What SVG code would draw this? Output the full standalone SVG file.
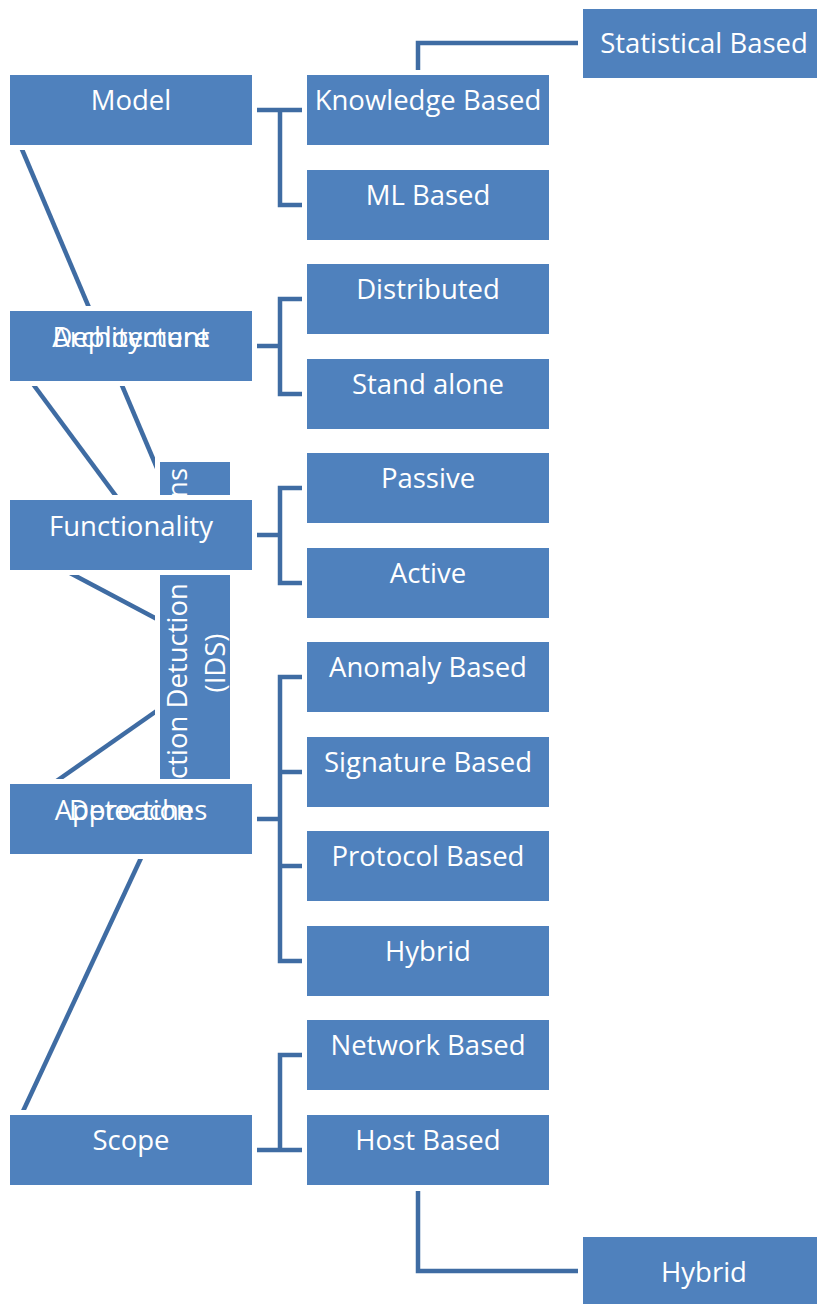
<svg xmlns="http://www.w3.org/2000/svg" width="817" height="1304" viewBox="0 0 817 1304">
  <style>
    .box { fill: #4f81bd; stroke: #ffffff; stroke-width: 10; paint-order: stroke; }
    .lbl { font-family: "Open Sans", "Liberation Sans", sans-serif; font-size: 27.5px; fill: #ffffff; text-anchor: middle; }
    .link { fill: none; stroke: #3f6ca3; stroke-width: 4.5; stroke-linecap: butt; stroke-linejoin: miter; }
  </style>
  <rect width="817" height="1304" fill="#ffffff"/>

  <!-- connectors -->
  <g id="connectors">
    <!-- spokes toward the central IDS box -->
    <line class="link" x1="18" y1="140" x2="168" y2="494"/>
    <line class="link" x1="27" y1="376" x2="130" y2="515"/>
    <line class="link" x1="70" y1="573" x2="172" y2="627"/>
    <line class="link" x1="168" y1="703" x2="48" y2="787"/>
    <line class="link" x1="182" y1="770" x2="18" y2="1122"/>
    <!-- brackets -->
    <path class="link" d="M257 110 H302 M280 108 V205 H302"/>
    <path class="link" d="M257 346 H280 M302 299 H280 V394 H302"/>
    <path class="link" d="M257 535 H280 M302 488 H280 V583 H302"/>
    <path class="link" d="M257 819 H280 M302 677 H280 V961 H302 M280 772 H302 M280 866 H302"/>
    <path class="link" d="M257 1150 H302 M302 1055 H280 V1150"/>
    <!-- outer links -->
    <path class="link" d="M418 70 V43 H578"/>
    <path class="link" d="M418 1191 V1271 H578"/>
  </g>

  <!-- central node -->
  <g id="node-ids">
    <rect class="box" x="160" y="462" width="70" height="388"/>
    <text class="lbl" style="text-anchor:end" transform="translate(187 468) rotate(-90)">ns</text>
    <text class="lbl" style="text-anchor:start" transform="translate(187 779) rotate(-90)">ction Detuction</text>
    <text class="lbl" transform="translate(225 663) rotate(-90)">(IDS)</text>
  </g>

  <!-- category nodes -->
  <g id="node-model">
    <rect class="box" x="10" y="75" width="242" height="70"/>
    <text class="lbl" x="131" y="110">Model</text>
  </g>
  <g id="node-architecture">
    <rect class="box" x="10" y="311" width="242" height="70"/>
    <text class="lbl" x="131" y="347">Architecture</text>
    <text class="lbl" x="131" y="347">Deployment</text>
  </g>
  <g id="node-functionality">
    <rect class="box" x="10" y="500" width="242" height="70"/>
    <text class="lbl" x="131" y="536">Functionality</text>
  </g>
  <g id="node-approaches">
    <rect class="box" x="10" y="784" width="242" height="70"/>
    <text class="lbl" x="131" y="820">Approaches</text>
    <text class="lbl" x="131" y="820">Detection</text>
  </g>
  <g id="node-scope">
    <rect class="box" x="10" y="1115" width="242" height="70"/>
    <text class="lbl" x="131" y="1150">Scope</text>
  </g>

  <!-- leaf nodes -->
  <g id="node-knowledge">
    <rect class="box" x="307" y="75" width="242" height="70"/>
    <text class="lbl" x="428" y="110">Knowledge Based</text>
  </g>
  <g id="node-ml">
    <rect class="box" x="307" y="170" width="242" height="70"/>
    <text class="lbl" x="428" y="205">ML Based</text>
  </g>
  <g id="node-distributed">
    <rect class="box" x="307" y="264" width="242" height="70"/>
    <text class="lbl" x="428" y="299">Distributed</text>
  </g>
  <g id="node-standalone">
    <rect class="box" x="307" y="359" width="242" height="70"/>
    <text class="lbl" x="428" y="394">Stand alone</text>
  </g>
  <g id="node-passive">
    <rect class="box" x="307" y="453" width="242" height="70"/>
    <text class="lbl" x="428" y="488">Passive</text>
  </g>
  <g id="node-active">
    <rect class="box" x="307" y="548" width="242" height="70"/>
    <text class="lbl" x="428" y="583">Active</text>
  </g>
  <g id="node-anomaly">
    <rect class="box" x="307" y="642" width="242" height="70"/>
    <text class="lbl" x="428" y="677">Anomaly Based</text>
  </g>
  <g id="node-signature">
    <rect class="box" x="307" y="737" width="242" height="70"/>
    <text class="lbl" x="428" y="772">Signature Based</text>
  </g>
  <g id="node-protocol">
    <rect class="box" x="307" y="831" width="242" height="70"/>
    <text class="lbl" x="428" y="866">Protocol Based</text>
  </g>
  <g id="node-hybrid">
    <rect class="box" x="307" y="926" width="242" height="70"/>
    <text class="lbl" x="428" y="961">Hybrid</text>
  </g>
  <g id="node-network">
    <rect class="box" x="307" y="1020" width="242" height="70"/>
    <text class="lbl" x="428" y="1055">Network Based</text>
  </g>
  <g id="node-host">
    <rect class="box" x="307" y="1115" width="242" height="70"/>
    <text class="lbl" x="428" y="1150">Host Based</text>
  </g>
  <g id="node-statistical">
    <rect class="box" x="583" y="9" width="242" height="69"/>
    <text class="lbl" x="704" y="53">Statistical Based</text>
  </g>
  <g id="node-hybrid-scope">
    <rect class="box" x="583" y="1237" width="242" height="70"/>
    <text class="lbl" x="704" y="1282">Hybrid</text>
  </g>
</svg>
